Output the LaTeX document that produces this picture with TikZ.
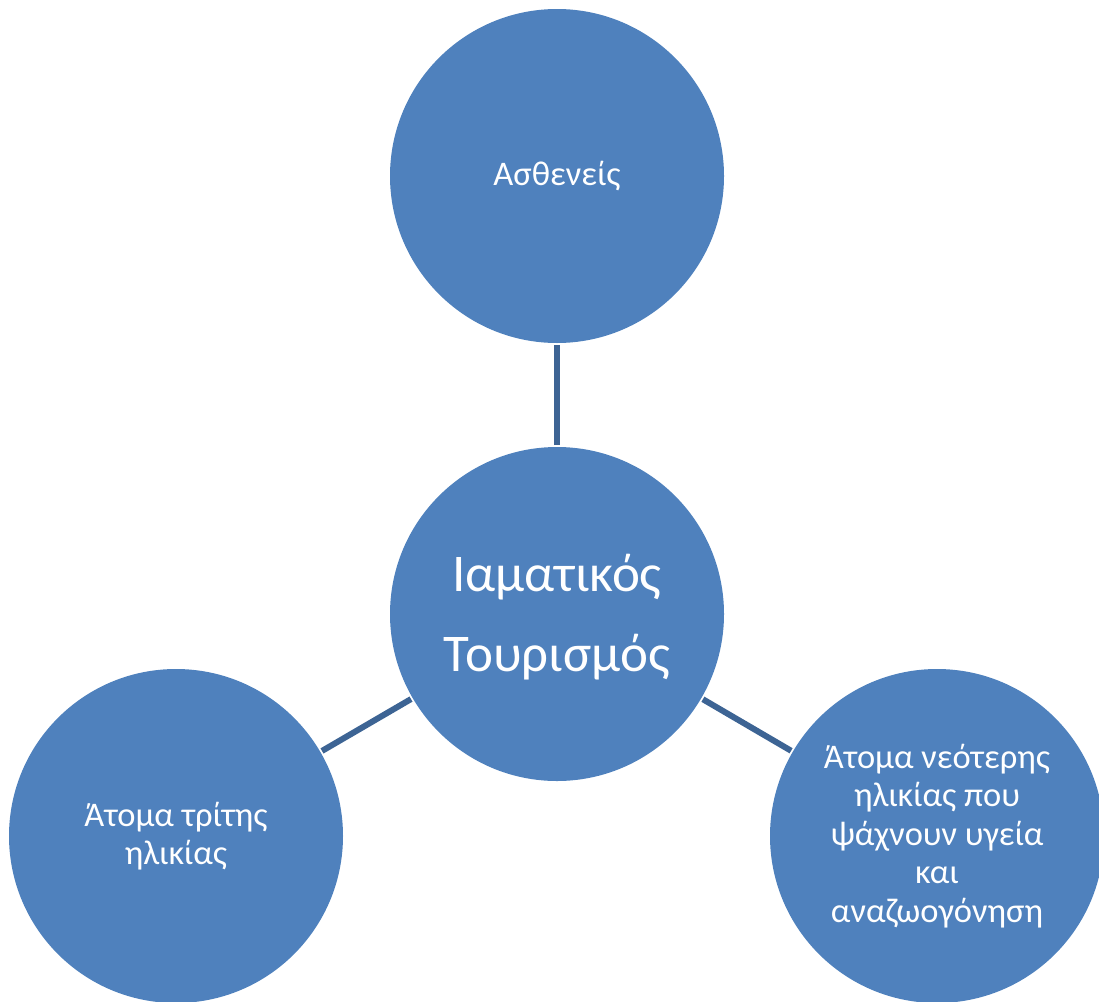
\documentclass[tikz,border=0pt]{standalone}
\usepackage{fontspec}
\setmainfont{Carlito}
\definecolor{cblue}{HTML}{4F81BD}
\definecolor{cline}{HTML}{3D6494}
\begin{document}
\begin{tikzpicture}[x=1pt,y=-1pt,
  circ/.style={circle, fill=cblue, minimum size=334pt, inner sep=0pt, outer sep=0pt, text=white, align=center},
  small/.style={font=\fontsize{34.5}{38.5}\selectfont},
  big/.style={font=\fontsize{53}{80}\selectfont},
  link/.style={draw=cline, line width=6pt, shorten <=2pt, shorten >=2pt}]
\useasboundingbox (0,0) rectangle (1099,1001);
\node[circ, small] (top) at (557,176) {Ασθενείς};
\node[circ, big] (mid) at (557,614) {};
\node[big, text=white, align=center] (midtext) at (557,617) {Ιαματικός\\Τουρισμός};
\node[circ, small] (left) at (176,836) {Άτομα τρίτης\\ηλικίας};
\node[circ, small] (right) at (937,836) {Άτομα νεότερης\\ηλικίας που\\ψάχνουν υγεία\\και\\αναζωογόνηση};
\draw[link] (mid) -- (top);
\draw[link] (mid) -- (left);
\draw[link] (mid) -- (right);
\end{tikzpicture}
\end{document}
